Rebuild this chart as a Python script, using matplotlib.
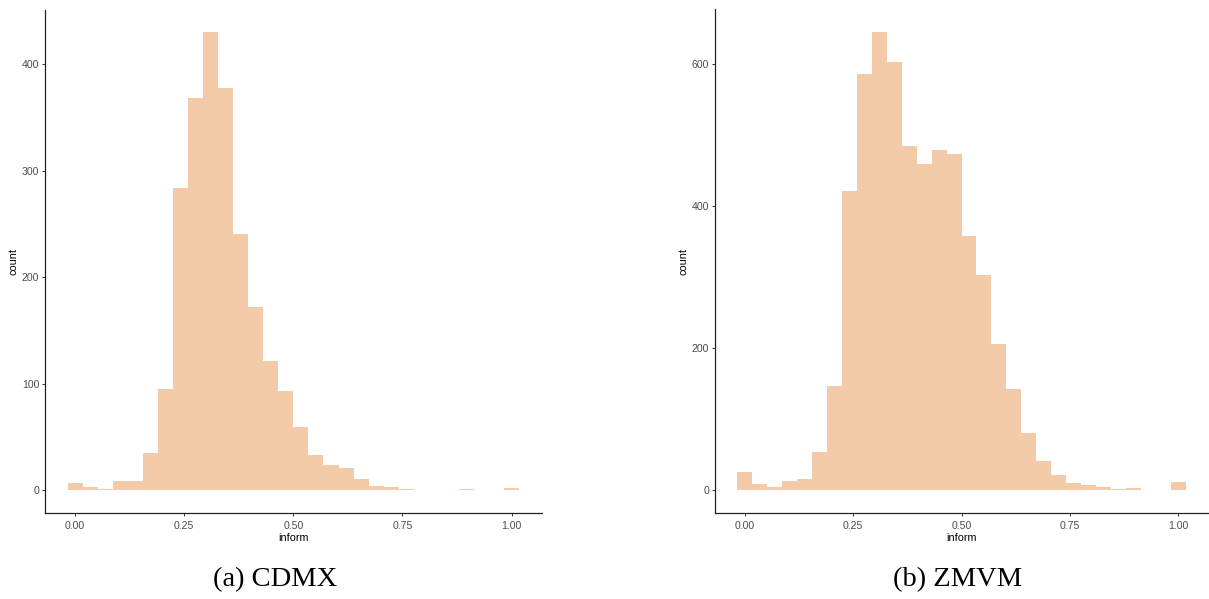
import numpy as np
import matplotlib
matplotlib.use("Agg")
import matplotlib.pyplot as plt

# Histogram counts of the "inform" index, 30 bins over [0, 1]
cdmx_counts = [7, 3, 1, 9, 9, 35, 95, 284, 368, 430, 378, 241, 172, 121, 93,
               59, 33, 24, 21, 10, 4, 3, 1, 0, 0, 0, 1, 0, 0, 2]
zmvm_counts = [25, 9, 4, 13, 16, 54, 147, 421, 587, 645, 603, 485, 460, 479, 473,
               358, 303, 206, 142, 81, 41, 21, 10, 7, 4, 2, 3, 0, 0, 12]
x_ticks = [0.0, 0.25, 0.5, 0.75, 1.0]
x_tick_labels = ["0.00", "0.25", "0.50", "0.75", "1.00"]
cdmx_yticks = [0, 100, 200, 300, 400]
zmvm_yticks = [0, 200, 400, 600]
captions = ["(a) CDMX", "(b) ZMVM"]

plt.rcParams["font.family"] = ["Liberation Sans", "DejaVu Sans"]

fig = plt.figure(figsize=(12.09, 5.99), dpi=100)

fill = "#F4CBA8"


def draw_hist(rect, counts, yticks):
    ax = fig.add_axes(rect)
    n = len(counts)
    width = 1.0 / (n - 1)
    centers = np.arange(n) * width
    ax.bar(centers, counts, width=width, color=fill, linewidth=0,
           align="center")
    lo, hi = -width / 2, 1 + width / 2
    pad = 0.05 * (hi - lo)
    ax.set_xlim(lo - pad, hi + pad)
    top = max(counts)
    ax.set_ylim(-0.05 * top, 1.05 * top)
    ax.set_xticks(x_ticks)
    ax.set_xticklabels(x_tick_labels)
    ax.set_yticks(yticks)
    ax.set_yticklabels([str(v) for v in yticks])
    for s in ("top", "right"):
        ax.spines[s].set_visible(False)
    for s in ("left", "bottom"):
        ax.spines[s].set_linewidth(0.9)
        ax.spines[s].set_color("#222222")
    ax.tick_params(axis="both", length=2.3, width=0.7, color="#333333",
                   labelcolor="#4D4D4D", labelsize=7.6, pad=1.8)
    ax.tick_params(axis="x", pad=3.5)
    ax.set_xlabel("inform", fontsize=7.8, color="black", labelpad=1.5)
    ax.set_ylabel("count", fontsize=7.8, color="black", labelpad=2.5)
    return ax


draw_hist([45 / 1209, 86 / 599, 496.7 / 1209, 503.5 / 599], cdmx_counts, cdmx_yticks)
draw_hist([715 / 1209, 86 / 599, 493 / 1209, 503.5 / 599], zmvm_counts, zmvm_yticks)

fig.text(275 / 1209, 1 - 586 / 599, captions[0], ha="center", va="baseline",
         fontsize=20.5, family=["Liberation Serif", "DejaVu Serif"])
fig.text(958 / 1209, 1 - 586 / 599, captions[1], ha="center", va="baseline",
         fontsize=20.5, family=["Liberation Serif", "DejaVu Serif"])

fig.savefig("out.png", dpi=100, facecolor="white")
